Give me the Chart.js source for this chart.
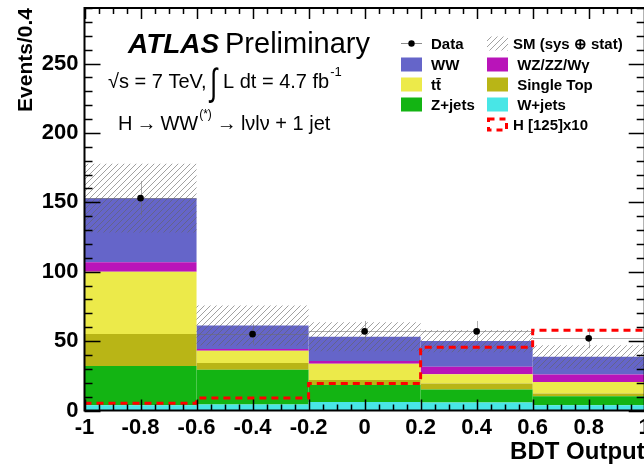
<!DOCTYPE html>
<html>
<head>
<meta charset="utf-8">
<script src="https://cdn.jsdelivr.net/npm/chart.js@4.4.1/dist/chart.umd.min.js"></script>
<style>
  html, body { margin: 0; padding: 0; background: #fff; overflow: hidden; width: 644px; height: 465px; }
  canvas { display: block; }
</style>
</head>
<body>
<canvas id="c" width="700" height="465" style="width:700px;height:465px"></canvas>
<script>
// BDT output, H -> WW(*) -> lvlv + 1 jet selection, 7 TeV, 4.7 fb^-1
const binCenters = [-0.8, -0.4, 0.0, 0.4, 0.8];
const binEdges   = [-1.0, -0.6, -0.2, 0.2, 0.6, 1.0];

// background processes, events per bin (stacked bottom -> top)
const wjets     = [3.8, 4.3, 6.2, 5.8, 3.8];
const zjets     = [28.2, 25.1, 12.1, 9.4, 6.5];
const singleTop = [23.1, 4.9, 3.6, 4.3, 2.0];
const ttbar     = [44.9, 8.7, 11.7, 6.7, 8.3];
const wzzzwg    = [6.8, 1.4, 2.0, 5.3, 5.4];
const ww        = [46.2, 16.9, 17.5, 18.5, 12.7];

// total SM uncertainty (sys + stat)
const smUnc = [24.7, 14.4, 10.4, 8.0, 8.4];

// observed data and its error
const dataCounts = [153, 55, 57, 57, 52];
const dataErr    = [12.4, 7.4, 7.5, 7.5, 7.2];

// Higgs signal (mH = 125 GeV) scaled by 10
const higgsX10 = [5.3, 9.0, 19.5, 45.5, 57.9];

// axis tick labels
const xTickValues = [-1, -0.8, -0.6, -0.4, -0.2, 0, 0.2, 0.4, 0.6, 0.8, 1];
const yTickValues = [0, 50, 100, 150, 200, 250];

const FONT = "'Liberation Sans', Arial, Helvetica, sans-serif";

function makeHatch() {
  const s = 6;
  const c = document.createElement('canvas');
  c.width = s; c.height = s;
  const g = c.getContext('2d');
  g.strokeStyle = 'rgba(100,100,100,0.6)';
  g.lineWidth = 1;
  g.beginPath();
  g.moveTo(-1, s + 1); g.lineTo(s + 1, -1);
  g.moveTo(-1, 1); g.lineTo(1, -1);
  g.moveTo(s - 1, s + 1); g.lineTo(s + 1, s - 1);
  g.stroke();
  return document.getElementById('c').getContext('2d').createPattern(c, 'repeat');
}
const hatch = makeHatch();

const stackDefs = [
  { label: 'W+jets',     values: wjets,     color: '#48e6e6' },
  { label: 'Z+jets',     values: zjets,     color: '#13b413' },
  { label: 'Single Top', values: singleTop, color: '#b9b516' },
  { label: 'tt\u0304',   values: ttbar,     color: '#ecea4a' },
  { label: 'WZ/ZZ/W\u03b3', values: wzzzwg, color: '#b914b9' },
  { label: 'WW',         values: ww,        color: '#6565c9' }
];

// the bar ruler follows the 0.2 tick spacing, bins are 0.4 wide
const binWidth = binEdges[1] - binEdges[0];
const tickStep = xTickValues[1] - xTickValues[0];
const barCommon = {
  type: 'bar', grouped: false, categoryPercentage: 1,
  barPercentage: binWidth / tickStep, borderWidth: 0
};

let cum = binCenters.map(() => 0);
const stackSets = stackDefs.map(d => {
  const lo = cum.slice();
  cum = cum.map((b, i) => b + d.values[i]);
  const hi = cum.slice();
  return Object.assign({}, barCommon, {
    label: d.label,
    data: binCenters.map((x, i) => ({ x, y: [lo[i], hi[i]] })),
    backgroundColor: d.color,
    order: 10
  });
});
const smTotal = cum;

const uncSet = Object.assign({}, barCommon, {
  label: 'SM (sys \u2295 stat)',
  data: binCenters.map((x, i) => ({ x, y: [smTotal[i] - smUnc[i], smTotal[i] + smUnc[i]] })),
  backgroundColor: hatch,
  order: 3
});

const higgsSet = {
  type: 'line',
  label: 'H [125]x10',
  data: binEdges.map((x, i) => ({ x, y: higgsX10[Math.min(i, higgsX10.length - 1)] })),
  stepped: true,
  borderColor: '#ff0000',
  borderWidth: 3,
  borderDash: [7, 5],
  pointRadius: 0,
  fill: false,
  order: 2
};

const dataSet = {
  type: 'line',
  label: 'Data',
  data: binCenters.map((x, i) => ({ x, y: dataCounts[i] })),
  showLine: false,
  pointRadius: 3.3,
  pointBackgroundColor: '#000',
  pointBorderColor: '#000',
  pointBorderWidth: 0,
  order: 0
};

const datasets = stackSets.concat([uncSet, higgsSet, dataSet]);
const DATA_INDEX = datasets.length - 1;

const decorations = {
  id: 'decorations',
  beforeDatasetDraw(chart, args) {
    if (args.index !== DATA_INDEX) return;
    const { ctx, scales: { x, y } } = chart;
    const half = binWidth / 2;
    ctx.save();
    ctx.strokeStyle = 'rgba(110,110,110,0.55)';
    ctx.lineWidth = 1;
    dataCounts.forEach((v, i) => {
      const px = Math.round(x.getPixelForValue(binCenters[i])) + 0.5;
      const py = Math.round(y.getPixelForValue(v)) + 0.5;
      ctx.beginPath();
      ctx.moveTo(x.getPixelForValue(binCenters[i] - half), py);
      ctx.lineTo(x.getPixelForValue(binCenters[i] + half), py);
      ctx.moveTo(px, y.getPixelForValue(v - dataErr[i]));
      ctx.lineTo(px, y.getPixelForValue(v + dataErr[i]));
      ctx.stroke();
    });
    ctx.restore();
  },
  afterDatasetsDraw(chart) {
    const { ctx, chartArea: a, scales: { x, y } } = chart;
    ctx.save();
    ctx.strokeStyle = '#000';
    ctx.lineWidth = 1.5;
    ctx.beginPath();
    // y axis ticks, both sides, pointing inwards
    for (let v = 0; v <= y.max + 1e-9; v += 10) {
      const py = Math.round(y.getPixelForValue(v)) + 0.5;
      const len = (v % 50 === 0) ? 16 : 8;
      ctx.moveTo(a.left, py); ctx.lineTo(a.left + len, py);
      ctx.moveTo(a.right, py); ctx.lineTo(a.right - len, py);
    }
    // x axis ticks, top and bottom
    for (let k = 0; k <= 40; k++) {
      const v = -1 + k * 0.05;
      const px = Math.round(x.getPixelForValue(v)) + 0.5;
      const len = (k % 4 === 0) ? 11 : 6;
      ctx.moveTo(px, a.bottom); ctx.lineTo(px, a.bottom - len);
      ctx.moveTo(px, a.top); ctx.lineTo(px, a.top + len);
    }
    ctx.stroke();
    ctx.lineWidth = 2;
    ctx.strokeRect(a.left, a.top, a.right - a.left, a.bottom - a.top);
    ctx.restore();
  },
  afterDraw(chart) {
    const ctx = chart.ctx;
    ctx.save();
    ctx.fillStyle = '#000';
    ctx.textBaseline = 'alphabetic';
    ctx.textAlign = 'left';

    // experiment label
    ctx.font = 'italic bold 28px ' + FONT;
    ctx.fillText('ATLAS', 128, 53);
    ctx.font = '29px ' + FONT;
    ctx.fillText('Preliminary', 225, 53);

    // energy and luminosity
    ctx.font = '20px ' + FONT;
    ctx.fillText('\u221As = 7 TeV,', 108, 88);
    ctx.save();
    ctx.translate(210, 95);
    ctx.scale(1, 1.45);
    ctx.font = '26px ' + FONT;
    ctx.fillText('\u222B', 0, 0);
    ctx.restore();
    ctx.font = '20px ' + FONT;
    ctx.fillText('L dt = 4.7 fb', 223, 88);
    let xe = 223 + ctx.measureText('L dt = 4.7 fb').width;
    ctx.font = '13px ' + FONT;
    ctx.fillText('-1', xe + 1, 76);

    // channel
    ctx.font = '20px ' + FONT;
    let xc = 118;
    const first = 'H\u2009\u2192\u2009WW';
    ctx.fillText(first, xc, 130);
    xc += ctx.measureText(first).width;
    ctx.font = '12px ' + FONT;
    ctx.fillText('(*)', xc + 1, 118);
    xc += ctx.measureText('(*)').width + 2;
    ctx.font = '20px ' + FONT;
    ctx.fillText('\u2009\u2192\u2009l\u03bdl\u03bd + 1 jet', xc, 130);

    // legend
    const rows = [43.5, 64.5, 84.5, 104.5, 124.5];
    const c1 = 401, c2 = 487, bw = 21, bh = 14;
    ctx.font = 'bold 15px ' + FONT;
    const label = (t, tx, yc) => ctx.fillText(t, tx, yc + 5.5);

    // Data marker
    ctx.strokeStyle = 'rgba(110,110,110,0.8)';
    ctx.lineWidth = 1;
    ctx.beginPath();
    ctx.moveTo(c1, rows[0]); ctx.lineTo(c1 + bw, rows[0]);
    ctx.stroke();
    ctx.beginPath();
    ctx.arc(c1 + bw / 2, rows[0], 3.2, 0, Math.PI * 2);
    ctx.fill();
    label('Data', 431, rows[0]);

    // SM uncertainty
    ctx.fillStyle = hatch;
    ctx.fillRect(c2, rows[0] - bh / 2, bw, bh);
    ctx.fillStyle = '#000';
    label('SM (sys \u2295 stat)', 513, rows[0]);

    const boxes = [
      [c1, 1, 'WW', '#6565c9'],
      [c1, 2, 'tt\u0304', '#ecea4a'],
      [c1, 3, 'Z+jets', '#13b413'],
      [c2, 1, ' WZ/ZZ/W\u03b3', '#b914b9'],
      [c2, 2, ' Single Top', '#b9b516'],
      [c2, 3, ' W+jets', '#48e6e6']
    ];
    boxes.forEach(([bx, r, t, col]) => {
      ctx.fillStyle = col;
      ctx.fillRect(bx, rows[r] - bh / 2, bw, bh);
      ctx.fillStyle = '#000';
      label(t, bx === c1 ? 431 : 513, rows[r]);
    });

    // Higgs signal
    ctx.strokeStyle = '#ff0000';
    ctx.lineWidth = 3;
    ctx.setLineDash([6, 5]);
    ctx.strokeRect(c2 + 1.5, rows[4] - bh / 2 + 1.5, bw - 3, bh - 3);
    ctx.setLineDash([]);
    label('H [125]x10', 513, rows[4]);

    ctx.restore();
  }
};

new Chart(document.getElementById('c'), {
  type: 'bar',
  data: { datasets },
  options: {
    responsive: false,
    animation: false,
    devicePixelRatio: 1,
    layout: { padding: { top: 8, right: 700 - 644.7, left: 0, bottom: 0 } },
    plugins: { legend: { display: false }, tooltip: { enabled: false } },
    scales: {
      x: {
        type: 'linear',
        min: -1, max: 1,
        offset: false,
        grid: { display: false, drawTicks: false },
        border: { display: false },
        afterBuildTicks: s => { s.ticks = xTickValues.map(v => ({ value: v })); },
        ticks: {
          color: '#000',
          padding: 4,
          maxRotation: 0,
          autoSkip: false,
          font: { family: FONT, size: 22, weight: 'bold' },
          callback: v => String(Math.round(v * 10) / 10)
        },
        title: {
          display: true, text: 'BDT Output', align: 'end', color: '#000',
          font: { family: FONT, size: 24, weight: 'bold', lineHeight: 1 },
          padding: { top: 0, bottom: 1 }
        },
        afterFit: s => { s.height = 54.5; s.paddingLeft = 0; s.paddingRight = 0; }
      },
      y: {
        type: 'linear',
        min: 0, max: 290,
        grid: { display: false, drawTicks: false },
        border: { display: false },
        afterBuildTicks: s => { s.ticks = yTickValues.map(v => ({ value: v })); },
        ticks: {
          color: '#000',
          padding: 6,
          font: { family: FONT, size: 22, weight: 'bold' }
        },
        title: {
          display: true, text: 'Events/0.4', align: 'end', color: '#000',
          font: { family: FONT, size: 21, weight: 'bold', lineHeight: 1.2 },
          padding: { top: 14, bottom: 0 }
        },
        afterFit: s => { s.width = 84.5; s.paddingTop = 0; s.paddingBottom = 0; }
      }
    }
  },
  plugins: [decorations]
});
</script>
</body>
</html>
